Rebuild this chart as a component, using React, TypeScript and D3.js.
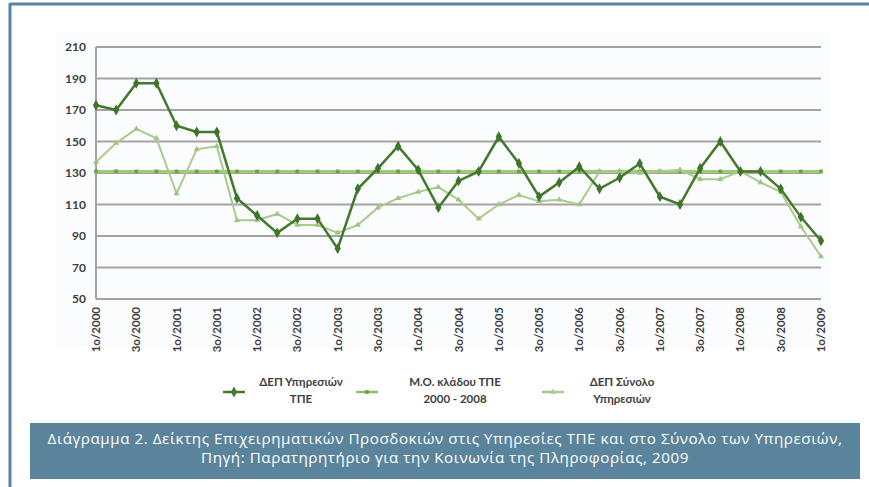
import React from "react";
import * as d3 from "d3";

const categories: string[] = [];
const years = [2000, 2001, 2002, 2003, 2004, 2005, 2006, 2007, 2008];
years.forEach((y) => [1, 2, 3, 4].forEach((q) => categories.push(`${q}ο/${y}`)));
categories.push("1ο/2009");

const seriesTPE = [173, 170, 187, 187, 160, 156, 156, 114, 103, 92, 101, 101, 82, 120, 133, 147, 132, 108, 125, 131, 153, 136, 115, 124, 134, 120, 127, 136, 115, 110, 133, 150, 131, 131, 120, 102, 87];
const seriesAvg = categories.map(() => 131);
const seriesTotal = [137, 149, 158, 152, 117, 145, 147, 100, 100, 104, 97, 97, 92, 97, 108, 114, 118, 121, 113, 101, 110, 116, 112, 113, 110, 131, 131, 130, 131, 132, 126, 126, 131, 124, 118, 96, 77];
const yTicks = [50, 70, 90, 110, 130, 150, 170, 190, 210];

const legendItems = [
  { lines: ["ΔΕΠ Υπηρεσιών", "ΤΠΕ"], color: "#44782c", marker: "diamond", cx: 234, tx: 301 },
  { lines: ["Μ.Ο. κλάδου ΤΠΕ", "2000 - 2008"], color: "#8cbf63", marker: "square", cx: 367, tx: 455 },
  { lines: ["ΔΕΠ Σύνολο", "Υπηρεσιών"], color: "#a9cb8e", marker: "triangle", cx: 553, tx: 622 },
];

const captionLines = [
  "Διάγραμμα 2. Δείκτης Επιχειρηματικών Προσδοκιών στις Υπηρεσίες ΤΠΕ και στο Σύνολο των Υπηρεσιών,",
  "Πηγή: Παρατηρητήριο για την Κοινωνία της Πληροφορίας, 2009",
];

export default function App() {
  const W = 869, H = 487;
  const left = 96, right = 821, top = 47, bottom = 299;
  const x = d3.scalePoint<string>().domain(categories).range([left, right]);
  const y = d3.scaleLinear().domain([50, 210]).range([bottom, top]);
  const line = d3
    .line<number>()
    .x((_, i) => x(categories[i]) as number)
    .y((d) => y(d));

  const tri = d3.symbol().type(d3.symbolTriangle).size(16)() as string;
  const dia = d3.symbol().type(d3.symbolDiamond).size(34)() as string;
  const sq = d3.symbol().type(d3.symbolSquare).size(14)() as string;

  const font = "Lato, 'Liberation Sans', sans-serif";

  return (
    <svg width={W} height={H} style={{ position: "absolute", left: 0, top: 0, background: "#fff" }}>
      <rect x={0} y={0} width={W} height={H} fill="#fff" />
      {/* frame */}
      <line x1={10} y1={4} x2={W} y2={4} stroke="#5b84a0" strokeWidth={3} />
      <line x1={10} y1={3} x2={10} y2={H} stroke="#5b84a0" strokeWidth={3} />
      {/* plot background */}
      <rect x={55} y={32} width={775} height={315} fill="#fafcfd" />
      {/* gridlines */}
      {yTicks.map((t) => (
        <g key={t}>
          <line x1={left} x2={right} y1={y(t)} y2={y(t)} stroke="#a7a2a2" strokeWidth={2} />
          <text x={86} y={y(t) + 4} textAnchor="end" fontFamily={font} fontWeight="bold" fontSize={12} fill="#404040">
            {t}
          </text>
        </g>
      ))}
      <line x1={left} x2={left} y1={top} y2={bottom} stroke="#a7a2a2" strokeWidth={2} />
      {/* x labels */}
      {categories.map((c, i) =>
        i % 2 === 0 ? (
          <text
            key={c}
            transform={`translate(${(x(c) as number) + 4},${307}) rotate(-90)`}
            textAnchor="end"
            fontFamily={font}
            fontWeight="bold"
            fontSize={11.5}
            fill="#404040"
          >
            {c}
          </text>
        ) : null
      )}
      {/* average series */}
      <path d={line(seriesAvg) as string} fill="none" stroke="#9ccc6f" strokeWidth={3} />
      {seriesAvg.map((v, i) => (
        <path key={i} d={sq} transform={`translate(${x(categories[i])},${y(v)})`} fill="#6aa544" />
      ))}
      {/* total series */}
      <path d={line(seriesTotal) as string} fill="none" stroke="#a9cb8e" strokeWidth={2} />
      {seriesTotal.map((v, i) => (
        <path key={i} d={tri} transform={`translate(${x(categories[i])},${y(v)})`} fill="#9fc484" />
      ))}
      {/* TPE series */}
      <path d={line(seriesTPE) as string} fill="none" stroke="#44782c" strokeWidth={2.5} />
      {seriesTPE.map((v, i) => (
        <path key={i} d={dia} transform={`translate(${x(categories[i])},${y(v)})`} fill="#3f7429" />
      ))}
      {/* legend */}
      {legendItems.map((it) => (
        <g key={it.tx}>
          <line x1={it.cx - 11} x2={it.cx + 11} y1={392} y2={392} stroke={it.color} strokeWidth={2.5} />
          <path
            d={it.marker === "diamond" ? dia : it.marker === "square" ? sq : tri}
            transform={`translate(${it.cx},392)`}
            fill={it.marker === "square" ? "#6aa544" : it.color}
          />
          {it.lines.map((l, j) => (
            <text key={j} x={it.tx} y={386 + j * 17} textAnchor="middle" fontFamily={font} fontWeight="bold" fontSize={11.5} fill="#404040">
              {l}
            </text>
          ))}
        </g>
      ))}
      {/* caption */}
      <rect x={30} y={423} width={830} height={56} fill="#5a849c" />
      {captionLines.map((l, j) => (
        <text key={j} x={445} y={444 + j * 19} textAnchor="middle" fontFamily="'Open Sans', 'Noto Sans', sans-serif" fontSize={15.2} letterSpacing={0.55} fill="#ffffff">
          {l}
        </text>
      ))}
    </svg>
  );
}
